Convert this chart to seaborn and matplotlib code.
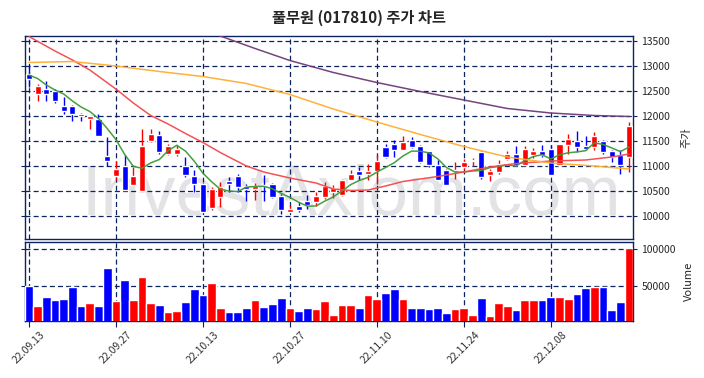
import numpy as np
import pandas as pd
import seaborn as sns
import matplotlib.pyplot as plt

# ------------------------------------------------------------------
# 데이터
# ------------------------------------------------------------------
dates = ["22.09.13", "22.09.27", "22.10.13", "22.10.27", "22.11.10", "22.11.24", "22.12.08"]
date_idx = [0, 10, 20, 30, 40, 50, 60]

opens = [12850, 12450, 12550, 12500, 12200, 12200, 12050, 11950, 11950, 11200,
         10800, 11000, 10620, 10500, 11500, 11630, 11250, 11250, 11000, 10800,
         10640, 10170, 10390, 10700, 10800, 10600, 10550, 10630, 10640, 10400,
         10090, 10200, 10300, 10280, 10390, 10490, 10420, 10730, 10900, 10840,
         10900, 11390, 11450, 11330, 11530, 11400, 11300, 11030, 10930, 10890,
         10990, 11100, 11290, 10820, 10890, 11150, 11240, 11030, 11220, 11300,
         11340, 11020, 11430, 11500, 11400, 11390, 11500, 11300, 11230, 11190]
highs = [13020, 12650, 12700, 12550, 12390, 12220, 12060, 12000, 12050, 11590,
         11100, 11220, 10990, 11750, 11740, 11700, 11450, 11420, 11190, 10930,
         10660, 10580, 10690, 10780, 10840, 10640, 10670, 10820, 10660, 10440,
         10220, 10290, 10430, 10480, 10680, 10620, 10750, 10920, 10990, 11040,
         11220, 11450, 11520, 11600, 11590, 11420, 11300, 11120, 10940, 11080,
         11150, 11170, 11310, 10940, 11130, 11300, 11410, 11410, 11370, 11420,
         11420, 11440, 11640, 11700, 11600, 11690, 11530, 11330, 11320, 11890]
lows = [12590, 12300, 12300, 12270, 12050, 11900, 11900, 11750, 11600, 11000,
        10720, 10520, 10620, 10500, 11480, 11240, 11230, 11200, 10790, 10490,
        10090, 10120, 10190, 10480, 10480, 10300, 10320, 10300, 10370, 10040,
        10080, 10090, 10150, 10200, 10350, 10370, 10400, 10720, 10720, 10720,
        10650, 11170, 11190, 11320, 11360, 11070, 10990, 10730, 10620, 10750,
        10920, 11000, 10740, 10710, 10840, 11120, 11000, 11000, 11170, 11190,
        10820, 11020, 11240, 11290, 11320, 11330, 11240, 11090, 10840, 10890]
closes = [12750, 12600, 12450, 12300, 12100, 12050, 12000, 12000, 11600, 11100,
          10950, 10520, 10800, 11400, 11640, 11290, 11400, 11340, 10820, 10640,
          10090, 10540, 10590, 10640, 10580, 10540, 10600, 10610, 10390, 10120,
          10140, 10120, 10220, 10400, 10600, 10570, 10730, 10840, 10820, 10900,
          11100, 11190, 11320, 11490, 11390, 11090, 11020, 10730, 10620, 10930,
          11090, 11130, 10790, 10900, 11040, 11250, 11020, 11340, 11300, 11220,
          10820, 11440, 11540, 11390, 11340, 11600, 11290, 11190, 11020, 11800]
volumes = [50000, 22800, 36000, 30700, 32000, 49500, 22800, 26800, 22800, 74100,
           29400, 58300, 30700, 62300, 26800, 24100, 14900, 16200, 28100, 46500,
           38600, 54400, 20200, 14900, 14900, 20200, 30700, 21500, 25400, 34600,
           20200, 16200, 20200, 18900, 29400, 11000, 24100, 24100, 20200, 38600,
           33300, 41200, 46500, 33300, 20200, 20200, 18900, 20200, 13600, 18900,
           20200, 11000, 34600, 9650, 26800, 22800, 17500, 30700, 30700, 30700,
           36000, 36000, 32000, 39900, 47800, 49500, 49500, 17500, 28100, 100900]

# 이동평균선 (앞부분 5일선과 장기선은 그림에서 읽음)
ma5_head = [12820, 12750, 12620, 12520]
ma20_idx = [0, 3, 5, 7, 10, 12, 14, 16, 18, 20, 22, 25, 27, 30, 33, 35, 37, 39, 41, 43,
            47, 50, 53, 56, 60, 64, 67, 69]
ma20_val = [13590, 13300, 13120, 12920, 12540, 12260, 12010, 11840, 11650, 11470, 11270,
            11000, 10880, 10760, 10660, 10540, 10510, 10520, 10600, 10690, 10790, 10880,
            10980, 11050, 11100, 11120, 11180, 11240]
ma60_idx = [0, 5, 10, 15, 20, 25, 30, 35, 40, 45, 50, 55, 60, 65, 69]
ma60_val = [13070, 13090, 13000, 12890, 12790, 12650, 12430, 12140, 11880, 11630, 11390,
            11180, 11060, 11000, 10940]
ma120_idx = [18, 22, 26, 30, 35, 40, 45, 50, 55, 60, 65, 69]
ma120_val = [13850, 13600, 13350, 13110, 12870, 12670, 12490, 12320, 12150, 12060, 12010, 11990]

# ------------------------------------------------------------------
sns.set_style("white")
plt.rcParams['font.family'] = ['Noto Sans CJK KR', 'DejaVu Sans']

df = pd.DataFrame({"idx": np.arange(len(closes)), "open": opens, "high": highs,
                   "low": lows, "close": closes, "volume": volumes})
df["dir"] = np.where(df["close"] >= df["open"], "up", "down")
ma5 = df["close"].rolling(5).mean().values
ma5[:4] = ma5_head

UP, DOWN = "#ff0000", "#0000ff"
NAVY = "#0b2460"
colors = [UP if d == "up" else DOWN for d in df["dir"]]

fig = plt.figure(figsize=(7.04, 3.78), dpi=100)
ax = fig.add_axes([25 / 704, 1 - 239 / 378, 608 / 704, 203 / 378])
axv = fig.add_axes([25 / 704, 1 - 321 / 378, 608 / 704, 79 / 378])

# 워터마크
ax.text(0.537, 0.123, "InvestAxiom.com", transform=ax.transAxes, fontsize=51,
        family="Liberation Sans", color="#e3e3e6", ha="center", va="baseline", zorder=0)

# 캔들
body_lo = np.minimum(df["open"], df["close"])
body_h = np.maximum(np.abs(df["close"] - df["open"]), 20)
ax.vlines(df["idx"], df["low"], df["high"], colors=colors, lw=1.0, zorder=2)
ax.bar(df["idx"], body_h, bottom=body_lo, width=0.7, color=colors, zorder=3)

# 이동평균선
sns.lineplot(x=df["idx"], y=ma5, color="#3c9a34", lw=1.1, alpha=0.95, ax=ax, zorder=4)
sns.lineplot(x=ma20_idx, y=ma20_val, color="#f44a4a", lw=1.1, alpha=0.95, ax=ax, zorder=4)
sns.lineplot(x=ma60_idx, y=ma60_val, color="#ffad30", lw=1.1, alpha=0.95, ax=ax, zorder=4)
sns.lineplot(x=ma120_idx, y=ma120_val, color="#6e3a78", lw=1.1, alpha=0.95, ax=ax, zorder=4)

# 거래량
sns.barplot(data=df, x="idx", y="volume", hue="dir", palette={"up": UP, "down": DOWN},
            dodge=False, width=1.0, native_scale=True, legend=False, saturation=1,
            ax=axv, zorder=3)

for a in (ax, axv):
    a.set_xlim(-0.45, 69.45)
    a.set_xticks(date_idx)
    a.grid(True, color=NAVY, ls=(0, (4, 2.5)), lw=0.9)
    a.set_axisbelow(True)
    for s in a.spines.values():
        s.set_color(NAVY)
        s.set_linewidth(1.0)
    a.yaxis.tick_right()
    a.tick_params(axis="y", which="both", left=True, right=True, labelleft=False,
                  labelright=True, length=3, color=NAVY, labelsize=7.5, pad=3)
    a.set_xlabel("")

ax.set_ylim(9540, 13600)
ax.set_yticks(range(10000, 13501, 500))
ax.tick_params(axis="x", bottom=False, labelbottom=False)
ax.yaxis.set_label_position("right")
ax.set_ylabel("주가", fontsize=8, labelpad=8)

axv.set_ylim(3000, 109500)
axv.set_yticks([50000, 100000])
axv.set_xticklabels(dates, rotation=45, fontsize=7.5, color="#333333")
axv.tick_params(axis="x", bottom=True, length=4, color=NAVY, pad=2)
axv.yaxis.set_label_position("right")
axv.set_ylabel("Volume", fontsize=8, labelpad=6)

fig.suptitle("풀무원 (017810) 주가 차트", x=0.51, y=0.975, fontsize=11, fontweight="bold")

fig.savefig("out.png", dpi=100)
